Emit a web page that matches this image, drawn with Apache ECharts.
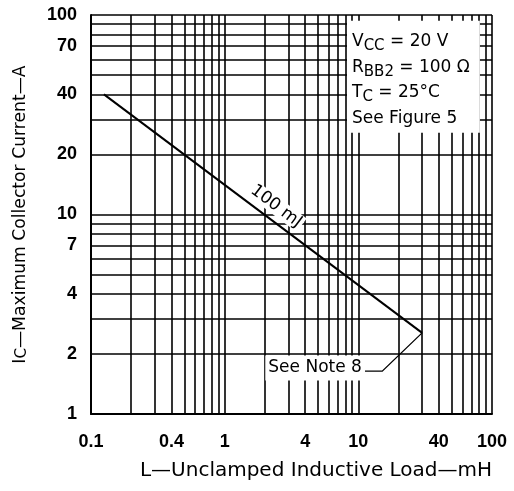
<!DOCTYPE html>
<html>
<head>
<meta charset="utf-8">
<script src="https://cdn.jsdelivr.net/npm/echarts@6/dist/echarts.min.js"></script>
<style>
  html, body { margin: 0; padding: 0; background: #fff; }
  #chart { width: 514px; height: 491px; }
</style>
</head>
<body>
<div id="chart"></div>
<script>
// 100 mJ limit line (L in mH, Ic in A)
const loadMH = [0.125, 30];
const currentA = [40, 2.55];

// grid lines on the log axes
const xGrid = [0.1, 0.2, 0.3, 0.4, 0.5, 0.6, 0.7, 0.8, 0.9, 1, 2, 3, 4, 5, 6, 7, 8, 9, 10,
               20, 30, 40, 50, 60, 70, 80, 90, 100];
const yGrid = [1, 2, 3, 4, 5, 6, 7, 8, 9, 10, 20, 30, 40, 50, 60, 70, 80, 90, 100];

// tick labels
const xLabels = [0.1, 0.4, 1, 4, 10, 40, 100];
const yLabels = [1, 2, 4, 7, 10, 20, 40, 70, 100];

// "See Note 8" leader, ends on the line end
const noteLeader = [[11.2, 1.64], [15.1, 1.64], [30, 2.55]];

const black = '#000';
const tickFont = { color: black, fontFamily: 'Liberation Sans', fontWeight: 'bold', fontSize: 18 };

document.addEventListener('DOMContentLoaded', function () {
    var myChart = echarts.init(document.getElementById('chart'));

    var option = {
        animation: false,
        backgroundColor: '#fff',
        title: {
            left: 347,
            top: 20,
            padding: [9, 10, 6, 5],
            backgroundColor: '#fff',
            text: '{n|V}{s|CC}{n| = 20 V}\n{n|R}{s|BB2}{n| = 100 Ω}\n{n|T}{s|C}{n| = 25°C}\n{n|See Figure 5}',
            textStyle: {
                fontWeight: 'normal',
                rich: {
                    n: { fontFamily: 'DejaVu Sans', fontWeight: 'normal', fontSize: 17, color: black, lineHeight: 25.5 },
                    s: { fontFamily: 'DejaVu Sans', fontWeight: 'normal', fontSize: 15, color: black, lineHeight: 25.5, padding: [9, 0, 0, 0] }
                }
            }
        },
        grid: { left: 91, right: 22, top: 15, bottom: 77 },
        xAxis: {
            type: 'log',
            min: 0.1,
            max: 100,
            name: 'L—Unclamped Inductive Load—mH',
            nameLocation: 'middle',
            nameGap: 47,
            nameTextStyle: { fontFamily: 'DejaVu Sans', fontSize: 20, color: black, padding: [0, 0, 0, 49] },
            axisLine: { show: true, lineStyle: { color: black, width: 2 } },
            axisTick: { show: false, customValues: xGrid },
            axisLabel: Object.assign({ customValues: xLabels, margin: 19, formatter: function (v) { return String(v); } }, tickFont),
            splitLine: { show: true, lineStyle: { color: black, width: 1.6 } }
        },
        yAxis: {
            type: 'log',
            min: 1,
            max: 100,
            name: 'I{s|C}—Maximum Collector Current—A',
            nameLocation: 'middle',
            nameGap: 61,
            nameTextStyle: {
                fontFamily: 'DejaVu Sans', fontSize: 17.2, color: black,
                rich: { s: { fontFamily: 'DejaVu Sans', fontSize: 15, color: black, padding: [4, 0, 0, 0] } }
            },
            axisLine: { show: true, lineStyle: { color: black, width: 2 } },
            axisTick: { show: false, customValues: yGrid },
            axisLabel: Object.assign({ customValues: yLabels, margin: 14, formatter: function (v) { return String(v); } }, tickFont),
            splitLine: { show: true, lineStyle: { color: black, width: 1.6 } }
        },
        series: [
            {
                name: '100 mJ',
                type: 'line',
                data: loadMH.map(function (l, i) { return [l, currentA[i]]; }),
                symbol: 'none',
                lineStyle: { color: black, width: 2 },
                z: 3,
                markPoint: {
                    symbol: 'circle',
                    symbolSize: 0,
                    silent: true,
                    data: [
                        {
                            coord: [2.43, 11.0],
                            label: {
                                formatter: '100 mJ', rotate: -37, color: black,
                                fontFamily: 'DejaVu Sans', fontSize: 17,
                                backgroundColor: '#fff', padding: [0, 2]
                            }
                        },
                        {
                            coord: [4.75, 1.7],
                            label: {
                                formatter: 'See Note 8', color: black,
                                fontFamily: 'DejaVu Sans', fontSize: 17,
                                backgroundColor: '#fff', padding: [4, 3]
                            }
                        }
                    ]
                }
            },
            {
                type: 'lines',
                coordinateSystem: 'cartesian2d',
                polyline: true,
                silent: true,
                symbol: ['none', 'arrow'],
                symbolSize: 9,
                lineStyle: { color: black, width: 1.3, opacity: 1 },
                z: 4,
                data: [{ coords: noteLeader }]
            }
        ]
    };

    option && myChart.setOption(option);
});
</script>
</body>
</html>
